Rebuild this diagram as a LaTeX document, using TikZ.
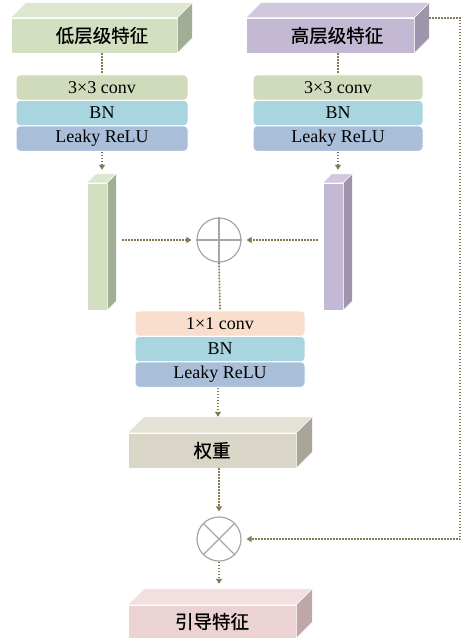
\documentclass[tikz,border=0pt]{standalone}
\usepackage{fontspec}
\setmainfont{Liberation Serif}
\newfontfamily\cjk[FakeBold=0.6]{Noto Sans CJK SC}
\usetikzlibrary{arrows.meta}

% face colours of the blocks: front / top / side
\definecolor{lowF}{HTML}{D3DFC1}  \definecolor{lowT}{HTML}{DDE6CF}  \definecolor{lowS}{HTML}{A1AD94}
\definecolor{highF}{HTML}{C4B9D4} \definecolor{highT}{HTML}{D1C8DE} \definecolor{highS}{HTML}{9E95AD}
\definecolor{wF}{HTML}{D9D5C7}    \definecolor{wT}{HTML}{E4E1D6}    \definecolor{wS}{HTML}{A9A699}
\definecolor{gF}{HTML}{EBD3D4}    \definecolor{gT}{HTML}{F2E0E0}    \definecolor{gS}{HTML}{BFA7A9}
% layer colours
\definecolor{convc}{HTML}{CFDBBA}
\definecolor{pconvc}{HTML}{F9DECE}
\definecolor{bnc}{HTML}{A8D5DF}
\definecolor{reluc}{HTML}{A9BFD9}
\definecolor{flowc}{HTML}{857A50}
\definecolor{opc}{HTML}{A6A6A6}

\begin{document}
\begin{tikzpicture}[x=1pt, y=-1pt,
    cube/.style={rectangle, inner sep=0pt, draw=white, line width=.5pt,
      font=\cjk\fontsize{18.5}{20}\selectfont},
    layer/.style={rectangle, rounded corners=4pt, inner sep=0pt, draw=white,
      line width=1pt, minimum height=25.5pt, font=\fontsize{18}{20}\selectfont},
    op/.style={circle, draw=opc, line width=1.2pt, minimum size=44pt, inner sep=0pt},
    flow/.style={draw=flowc, line width=1.7pt, dash pattern=on 1.7pt off 1.3pt},
    tip/.style={-{Triangle[length=5pt,width=6pt]}}]

  \useasboundingbox (0,0) rectangle (472,642);

  % input features
  \node[cube, fill=lowF, minimum width=166pt, minimum height=35pt] (low) at (94,35.5)
    {\hspace*{16pt}低层级特征};
  \node[cube, fill=highF, minimum width=168pt, minimum height=35pt] (high) at (330,35.5)
    {\hspace*{14pt}高层级特征};

  % 3x3 conv branches
  \node[layer, fill=convc, minimum width=172pt] (convL) at (102,87.5) {3×3 conv};
  \node[layer, fill=bnc,   minimum width=172pt] (bnL)   at (102,113)  {BN};
  \node[layer, fill=reluc, minimum width=172pt] (actL)  at (102,138.5) {Leaky ReLU};

  \node[layer, fill=convc, minimum width=170pt] (convR) at (338,87.5) {3×3 conv};
  \node[layer, fill=bnc,   minimum width=170pt] (bnR)   at (338,113)  {BN};
  \node[layer, fill=reluc, minimum width=170pt] (actR)  at (338,138.5) {Leaky ReLU};

  % feature columns
  \node[cube, fill=lowF,  minimum width=20pt, minimum height=127pt] (colL) at (97,246.5) {};
  \node[cube, fill=highF, minimum width=20pt, minimum height=127pt] (colR) at (333,246.5) {};

  \node[op] (sum) at (219,240) {};
  \draw[opc, line width=1.2pt] (sum.north) -- (sum.south) (sum.west) -- (sum.east);

  % 1x1 conv
  \node[layer, fill=pconvc, minimum width=170pt] (convM) at (220,323.5) {1×1 conv};
  \node[layer, fill=bnc,    minimum width=170pt] (bnM)   at (220,349)   {BN};
  \node[layer, fill=reluc,  minimum width=170pt] (actM)  at (220,374.5) {Leaky ReLU};

  \node[cube, fill=wF, minimum width=168pt, minimum height=35pt] (weight) at (212,450.5) {权重};

  \node[op] (prod) at (219,539) {};
  \draw[opc, line width=1.2pt] (prod.north west) -- (prod.south east)
    (prod.north east) -- (prod.south west);

  \node[cube, fill=gF, minimum width=168pt, minimum height=33pt] (guide) at (212,621.5) {引导特征};

  % top and side faces
  \foreach \n/\d/\t/\s in {low/15/lowT/lowS, high/15/highT/highS, colL/9/lowT/lowS,
      colR/9/highT/highS, weight/16/wT/wS, guide/16/gT/gS}
  {
    \filldraw[fill=\t, draw=white, line width=.5pt] (\n.north west) -- ++(\d,-\d)
      -- ([shift={(\d,-\d)}]\n.north east) -- (\n.north east) -- cycle;
    \filldraw[fill=\s, draw=white, line width=.5pt] (\n.north east) -- ++(\d,-\d)
      -- ([shift={(\d,-\d)}]\n.south east) -- (\n.south east) -- cycle;
  }

  % connections
  \draw[flow] ([xshift=8pt]low.south) -- (convL.north);
  \draw[flow] ([xshift=8pt]high.south) -- (convR.north);
  \draw[flow, tip] (actL.south) -- ([yshift=13pt]actL.south |- colL.north);
  \draw[flow, tip] (actR.south) -- ([yshift=13pt]actR.south |- colR.north);
  \draw[flow, tip] ([xshift=15pt]colL.east |- sum) -- ([xshift=-5pt]sum.west);
  \draw[flow, tip] ([xshift=-5pt]colR.west |- sum) -- ([xshift=5pt]sum.east);
  \draw[flow] (sum.south) -- (convM.north);
  \draw[flow, tip] ([xshift=-2pt]actM.south) -- ([xshift=-2pt,yshift=16pt]actM.south |- weight.north);
  \draw[flow, tip] (prod |- weight.south) -- ([yshift=5pt]prod.north);
  \draw[flow, tip] (prod.south) -- ([yshift=21pt]prod.south |- guide.north);
  \draw[flow, tip] ([xshift=15pt]high.north east) -- ++(31,0) |- ([xshift=5pt]prod.east);

\end{tikzpicture}
\end{document}
